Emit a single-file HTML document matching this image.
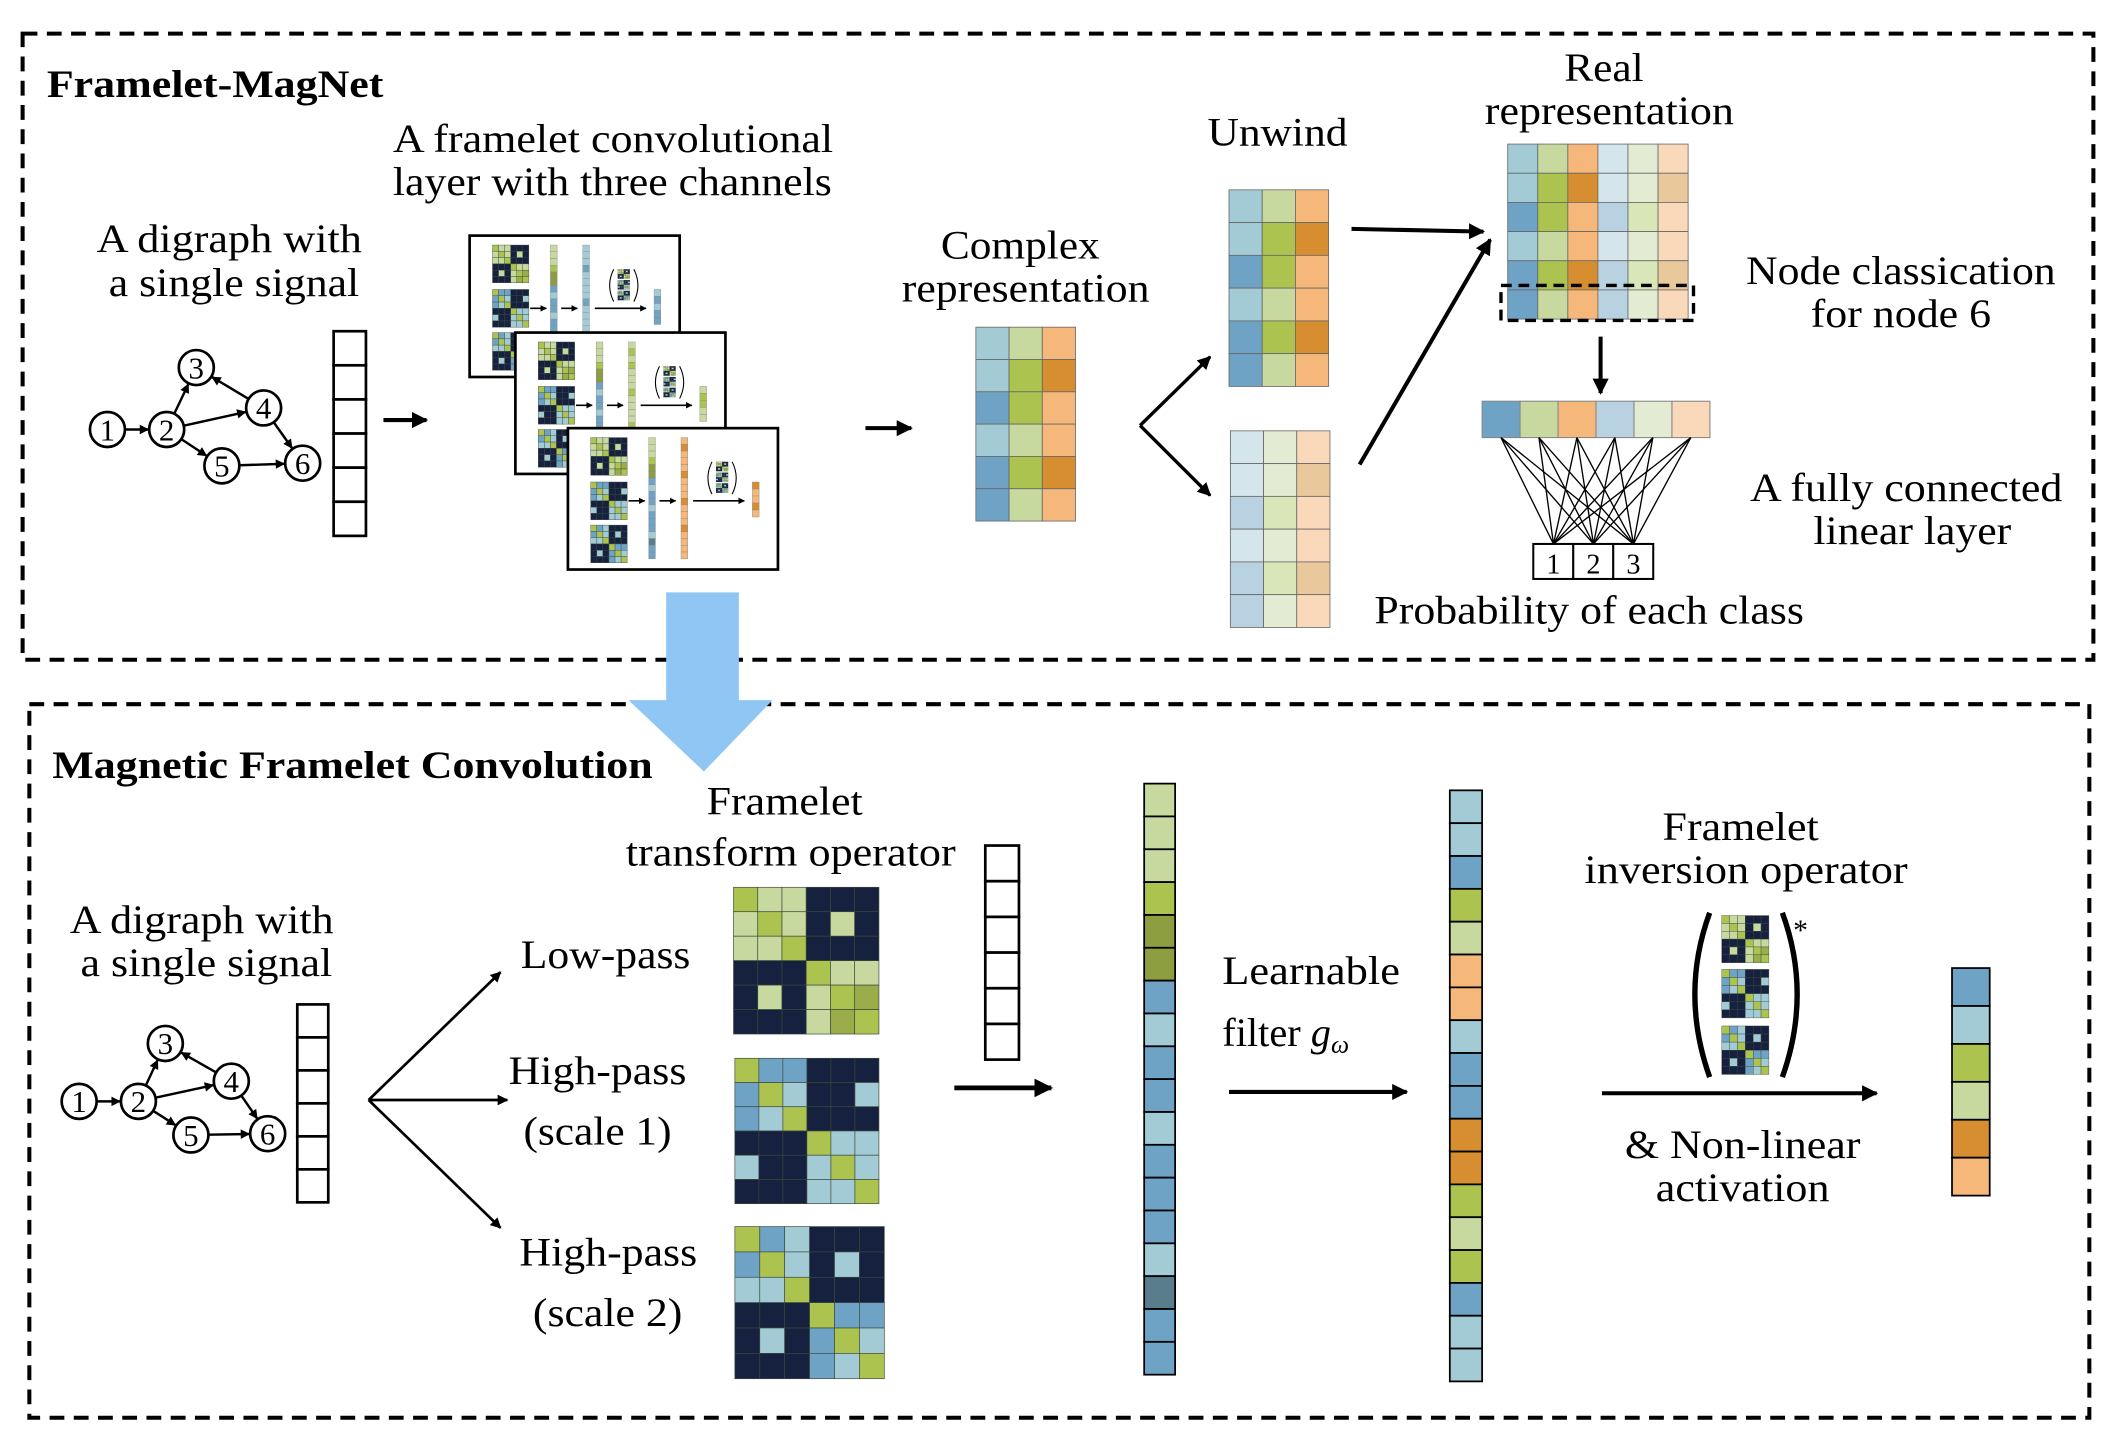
<!DOCTYPE html>
<html><head><meta charset="utf-8"><style>
html,body{margin:0;padding:0;background:#fff;}
svg{display:block;}
text{font-family:"Liberation Serif",serif;fill:#000;}
</style></head><body>
<svg id="s" width="2116" height="1442" viewBox="0 0 1568 1071" xmlns="http://www.w3.org/2000/svg">
<defs>
<marker id="ah" viewBox="0 0 10 10" refX="9" refY="5" markerWidth="4" markerHeight="4" orient="auto"><path d="M0,0 L10,5 L0,10 z" fill="#000"/></marker>
</defs>
<rect x="15" y="25" width="1538" height="465" fill="none" stroke="#000" stroke-width="3" stroke-dasharray="11,7"/>
<rect x="20" y="523" width="1530" height="530" fill="none" stroke="#000" stroke-width="3" stroke-dasharray="11,7"/>
<g id="g"></g>
<path d="M493,440 H547 V520 H572 L521,573 L465,520 H493 Z" fill="#8fc6f4"/>

<text x="33" y="72" font-size="29" font-weight="bold" textLength="250" lengthAdjust="spacingAndGlyphs">Framelet-MagNet</text>
<text x="70" y="187" font-size="30" textLength="197" lengthAdjust="spacingAndGlyphs">A digraph with</text>
<text x="79" y="220" font-size="30" textLength="186" lengthAdjust="spacingAndGlyphs">a single signal</text>
<text x="290" y="113" font-size="30" textLength="327" lengthAdjust="spacingAndGlyphs">A framelet convolutional</text>
<text x="290" y="145" font-size="30" textLength="326" lengthAdjust="spacingAndGlyphs">layer with three channels</text>
<text x="697" y="192" font-size="30" textLength="118" lengthAdjust="spacingAndGlyphs">Complex</text>
<text x="668" y="224" font-size="30" textLength="184" lengthAdjust="spacingAndGlyphs">representation</text>
<text x="895" y="108" font-size="30" textLength="104" lengthAdjust="spacingAndGlyphs">Unwind</text>
<text x="1160" y="60" font-size="30" textLength="59" lengthAdjust="spacingAndGlyphs">Real</text>
<text x="1101" y="92" font-size="30" textLength="185" lengthAdjust="spacingAndGlyphs">representation</text>
<text x="1295" y="211" font-size="30" textLength="230" lengthAdjust="spacingAndGlyphs">Node classication</text>
<text x="1343" y="243" font-size="30" textLength="134" lengthAdjust="spacingAndGlyphs">for node 6</text>
<text x="1298" y="372" font-size="30" textLength="232" lengthAdjust="spacingAndGlyphs">A fully connected</text>
<text x="1345" y="404" font-size="30" textLength="147" lengthAdjust="spacingAndGlyphs">linear layer</text>
<text x="1019" y="463" font-size="30" textLength="319" lengthAdjust="spacingAndGlyphs">Probability of each class</text>

<text x="37" y="578" font-size="29" font-weight="bold" textLength="446" lengthAdjust="spacingAndGlyphs">Magnetic Framelet Convolution</text>
<text x="50" y="693" font-size="30" textLength="196" lengthAdjust="spacingAndGlyphs">A digraph with</text>
<text x="58" y="725" font-size="30" textLength="187" lengthAdjust="spacingAndGlyphs">a single signal</text>
<text x="385" y="719" font-size="30" textLength="126" lengthAdjust="spacingAndGlyphs">Low-pass</text>
<text x="376" y="805" font-size="30" textLength="132" lengthAdjust="spacingAndGlyphs">High-pass</text>
<text x="387" y="850" font-size="30" textLength="110" lengthAdjust="spacingAndGlyphs">(scale 1)</text>
<text x="384" y="940" font-size="30" textLength="132" lengthAdjust="spacingAndGlyphs">High-pass</text>
<text x="394" y="985" font-size="30" textLength="111" lengthAdjust="spacingAndGlyphs">(scale 2)</text>
<text x="523" y="605" font-size="30" textLength="116" lengthAdjust="spacingAndGlyphs">Framelet</text>
<text x="463" y="643" font-size="30" textLength="245" lengthAdjust="spacingAndGlyphs">transform operator</text>
<text x="906" y="731" font-size="30" textLength="132" lengthAdjust="spacingAndGlyphs">Learnable</text>
<text x="906" y="777" font-size="30">filter <tspan font-style="italic">g</tspan><tspan font-style="italic" font-size="19" dy="5">ω</tspan></text>
<text x="1233" y="624" font-size="30" textLength="116" lengthAdjust="spacingAndGlyphs">Framelet</text>
<text x="1175" y="656" font-size="30" textLength="240" lengthAdjust="spacingAndGlyphs">inversion operator</text>
<text x="1205" y="860" font-size="30" textLength="175" lengthAdjust="spacingAndGlyphs">&amp; Non-linear</text>
<text x="1228" y="892" font-size="30" textLength="129" lengthAdjust="spacingAndGlyphs">activation</text>
</svg>
<script>
var NS="http://www.w3.org/2000/svg",G=document.getElementById('g');
function el(t,a,p){var e=document.createElementNS(NS,t);for(var k in a)e.setAttribute(k,a[k]);(p||G).appendChild(e);return e;}
var C={N:"#16203f",L:"#c8d9a0",G:"#adc350",O:"#8c9e40",P:"#9bad4a",B:"#6fa3c6",b:"#a2cbd6",o:"#f5b87a",d:"#d68e30",S:"#5a7d8c",
 fb:"#d4e6ec",fB:"#b9d2e2",fl:"#e3ebd2",fg:"#d8e6b8",fo:"#fad9bb",fd:"#e9c89b",W:"#fff"};
var LOW=["GLLNNN","LGLNLN","LLGNNN","NNNGLL","NLNLGP","NNNLPG"],
H1=["GBBNNN","BGbNNb","BbGNNN","NNNGbb","bNNbGb","NNNbbG"],
H2=["GBbNNN","BGbNbN","bbGNNN","NNNGBB","NbNBGb","NNNBbG"];
function mat(x,y,w,h,P,p,sw){var cw=w/6,ch=h/6;for(var r=0;r<6;r++)for(var c=0;c<6;c++)el('rect',{x:x+c*cw,y:y+r*ch,width:cw,height:ch,fill:C[P[r][c]],stroke:"#3a4a3a","stroke-width":sw||0.5},p);}
function col(x,y,w,h,cols,p,sw,st){var n=cols.length,ch=h/n;for(var i=0;i<n;i++)el('rect',{x:x,y:y+i*ch,width:w,height:ch,fill:C[cols[i]]||cols[i],stroke:st||"#000","stroke-width":sw||1.2},p);}
function grid(x,y,w,h,cols,p,sw){var nc=cols.length,cw=w/nc;for(var c=0;c<nc;c++)col(x+c*cw,y,cw,h,cols[c],p,sw||0.6,"#666");}
function line(x1,y1,x2,y2,sw,arrow,p){var a={x1:x1,y1:y1,x2:x2,y2:y2,stroke:"#000","stroke-width":sw||3};if(arrow)a["marker-end"]="url(#ah)";el('line',a,p);}
function graph(pos,r){var E=[[1,2],[2,3],[4,3],[2,4],[2,5],[5,6],[4,6]];
 E.forEach(function(e){var a=pos[e[0]],b=pos[e[1]],dx=b[0]-a[0],dy=b[1]-a[1],L=Math.hypot(dx,dy);
  line(a[0]+dx/L*r,a[1]+dy/L*r,b[0]-dx/L*r,b[1]-dy/L*r,1.8,false);
  var tx=b[0]-dx/L*r,ty=b[1]-dy/L*r,ux=dx/L,uy=dy/L;
  el('path',{d:"M"+tx+","+ty+" L"+(tx-ux*7-uy*3.5)+","+(ty-uy*7+ux*3.5)+" L"+(tx-ux*7+uy*3.5)+","+(ty-uy*7-ux*3.5)+"Z",fill:"#000"});});
 for(var k in pos){el('circle',{cx:pos[k][0],cy:pos[k][1],r:r,fill:"#fff",stroke:"#000","stroke-width":2});
  var t=el('text',{x:pos[k][0],y:pos[k][1]+8,"font-size":23,"text-anchor":"middle"});t.textContent=k;}}
graph({1:[78,319],2:[122,319],3:[144,273],4:[194,303],5:[163,346],6:[223,344]},13);
col(246,246,24,152,["W","W","W","W","W","W"],G,2);
line(283,312,315,312,3,true);
function mini(bx,by,o){var p=el('g',{});el('rect',{x:bx,y:by,width:156,height:105,fill:"#fff",stroke:"#000","stroke-width":2},p);
 mat(bx+17,by+7,27,28,LOW,p,0.3);mat(bx+17,by+40,27,28,H1,p,0.3);mat(bx+17,by+72,27,28,H2,p,0.3);
 col(bx+60,by+7,5,90,["L","L","L","G","O","O","B","b","B","B","b","B","B","B","b","S","B","B"],p,0.3,"#888");
 col(bx+84,by+7,5,90,o.c2,p,0.3,"#888");
 line(bx+45,by+54,bx+57,by+54,1.2,true,p);line(bx+68,by+54,bx+80,by+54,1.2,true,p);line(bx+93,by+54,bx+131,by+54,1.2,true,p);
 el('path',{d:"M"+(bx+107)+","+(by+25)+" q-6,12 0,24",fill:"none",stroke:"#000","stroke-width":0.8},p);
 el('path',{d:"M"+(bx+122)+","+(by+25)+" q6,12 0,24",fill:"none",stroke:"#000","stroke-width":0.8},p);
 mat(bx+110,by+25,9,7,LOW,p,0.1);mat(bx+110,by+33,9,7,H1,p,0.1);mat(bx+110,by+41,9,7,H2,p,0.1);
 col(bx+137,by+40,5,26,o.out,p,0.3,"#888");}
mini(347,175,{c2:["b","b","b","B","b","b","b","b","B","b","b","b","b","B","b","b","b","b"],out:["b","B","b","B","B"]});
mini(381,247,{c2:["L","G","L","G","L","L","L","G","L","L","L","L","G","L","L","G","L","L"],out:["L","G","G","L","L"]});
mini(420,318,{c2:["o","d","o","o","o","d","o","o","o","d","o","o","o","d","o","o","o","o"],out:["d","o","o","d","o"]});
line(641,318,675,318,3,true);
var CB=["b","b","B","b","B","B"],CG=["L","G","G","L","G","L"],CO=["o","d","o","o","d","o"];
var FB=["fb","fb","fB","fb","fB","fB"],FG=["fl","fl","fg","fl","fg","fl"],FO=["fo","fd","fo","fo","fd","fo"];
grid(723,243,74,144,[CB,CG,CO]);
line(845,316,897,265,2.5,true);line(845,316,897,368,2.5,true);
grid(911,141,74,146,[CB,CG,CO]);
grid(912,320,74,146,[FB,FG,FO]);
line(1002,170,1100,172,3,true);line(1008,345,1105,178,3,true);
grid(1118,107,134,130,[CB,CG,CO,FB,FG,FO]);
el('rect',{x:1113,y:212,width:143,height:26,fill:"none",stroke:"#000","stroke-width":2.5,"stroke-dasharray":"8,5"});
line(1187,250,1187,292,3,true);
var row=["B","L","o","fB","fl","fo"];
for(var i=0;i<6;i++)el('rect',{x:1099+i*28.2,y:298,width:28.2,height:27,fill:C[row[i]],stroke:"#888","stroke-width":0.8});
for(var i=0;i<6;i++)for(var j=0;j<3;j++)line(1113+i*28.2,325,1152+j*29.7,404,1,false);
for(var j=0;j<3;j++){el('rect',{x:1137+j*29.7,y:404,width:29.7,height:26,fill:"#fff",stroke:"#000","stroke-width":1.5});var t=el('text',{x:1152+j*29.7,y:426,"font-size":21,"text-anchor":"middle"});t.textContent=j+1;}
graph({1:[57,818],2:[101,818],3:[121,775],4:[170,803],5:[140,843],6:[197,842]},13);
col(219,746,23,147,["W","W","W","W","W","W"],G,2);
line(272,817,370,722,2,true);line(272,817,375,817,2,true);line(272,817,370,912,2,true);
mat(543,659,108,109,LOW);mat(544,786,107,108,H1);mat(544,911,111,113,H2);
col(730,628,25,159,["W","W","W","W","W","W"],G,2);
line(707,808,779,808,3.5,true);
col(848,582,23,439,["L","L","L","G","O","O","B","b","B","B","b","B","B","B","b","S","B","B"],G,1.3);
line(911,811,1043,811,3,true);
col(1075,587,24,439,["b","b","B","G","L","o","o","b","B","B","d","d","G","L","G","B","b","b"],G,1.3);
el('path',{d:"M1268,678 q-22,60 0,122",fill:"none",stroke:"#000","stroke-width":4});
el('path',{d:"M1322,678 q22,60 0,122",fill:"none",stroke:"#000","stroke-width":4});
mat(1277,680,35,35,LOW,G,0.3);mat(1277,720,35,36,H1,G,0.3);mat(1277,762,35,36,H2,G,0.3);
var st=el('text',{x:1330,y:698,"font-size":22});st.textContent="*";
line(1188,812,1392,812,3,true);
col(1448,719,28,169,["B","b","G","L","d","o"],G,1.3);
</script>
</body></html>
